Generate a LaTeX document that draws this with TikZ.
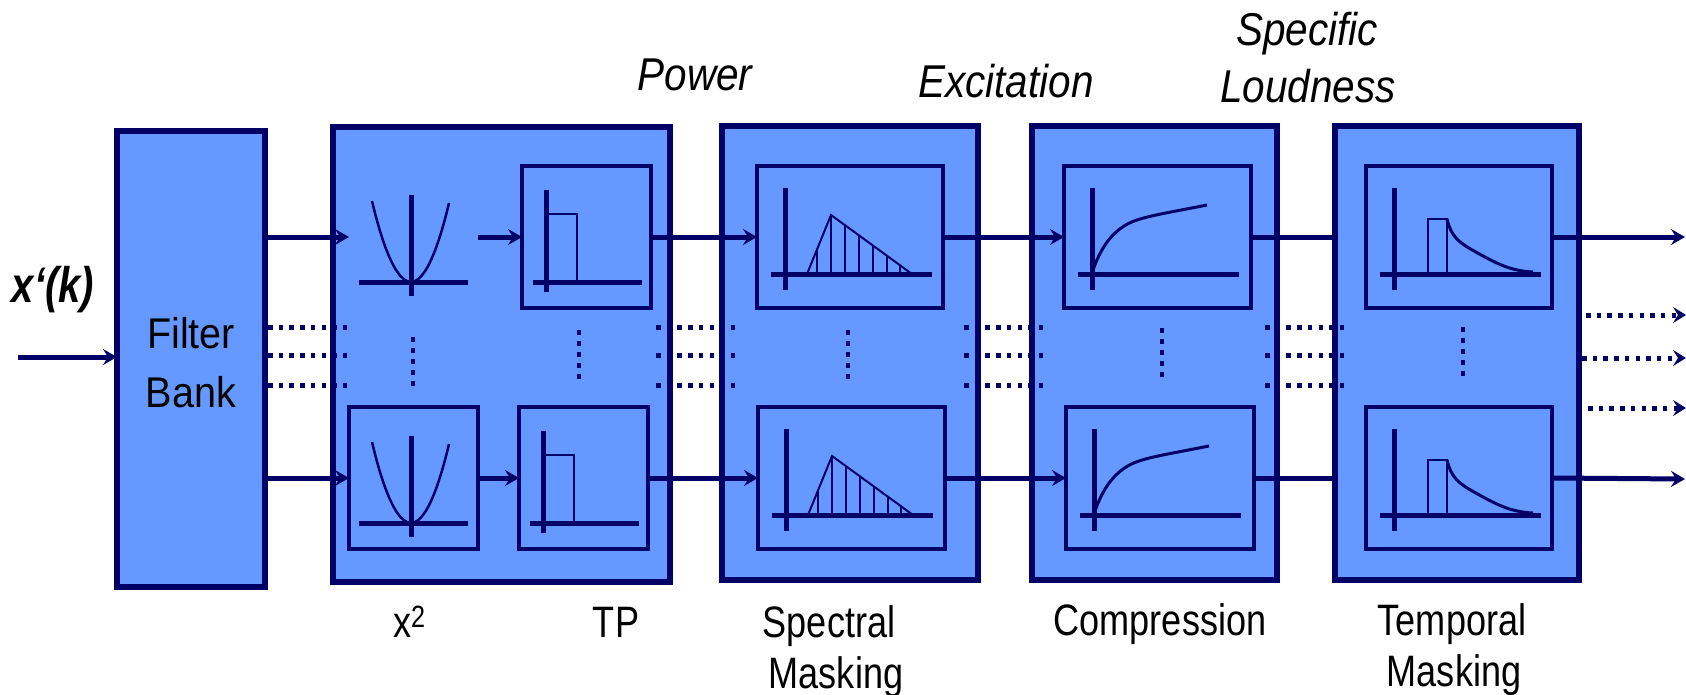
\documentclass[tikz,border=0pt]{standalone}
\usepackage{fontspec}
\setmainfont{Liberation Sans}
\newfontfamily\narrowfont{Liberation Sans}[FakeStretch=0.82]
\newfontfamily\fbfont{Liberation Sans}[FakeStretch=0.92]
\newfontfamily\stagefont{Liberation Sans}[FakeStretch=0.88]
\newfontfamily\sigfont{Liberation Sans}[FakeStretch=0.8]
\usetikzlibrary{arrows.meta}

\definecolor{navy}{RGB}{0,0,102}
\definecolor{panel}{RGB}{102,153,255}

\tikzset{
  stage/.style={draw=navy, fill=panel, line width=6.5pt, inner sep=0pt, outer sep=0pt},
  unit/.style={draw=navy, fill=panel, line width=4.5pt, inner sep=0pt, outer sep=0pt, minimum height=142pt},
  sigline/.style={draw=navy, line width=5pt},
  arr/.style={sigline, -{Stealth[length=14pt,width=16pt,inset=5pt]}},
  dots/.style={draw=navy, line width=5pt, dash pattern=on 4.5pt off 6.2pt},
  dotarr/.style={dots, -{Stealth[length=13pt,width=16pt,inset=5pt]}},
  vdots/.style={draw=navy, line width=4.5pt, dash pattern=on 4.5pt off 6.5pt},
  plotaxis/.style={draw=navy, line width=5pt},
  plottrace/.style={draw=navy, line width=2pt},
  lbl/.style={font=\narrowfont\fontsize{44}{51}\selectfont, inner sep=0pt},
  fblbl/.style={font=\fbfont\fontsize{43}{50}\selectfont, inner sep=0pt},
  stagelbl/.style={font=\stagefont\itshape\fontsize{46}{54}\selectfont, inner sep=0pt},
  % squaring characteristic
  squarer/.pic={
    \draw[plotaxis] (-52,0) -- (57,0);
    \draw[plotaxis] (0,-87) -- (0,14);
    \draw[plottrace, line width=2.5pt] (-39,-81) parabola bend (0,0) (38,-79);
  },
  % low-pass step response
  lowpass/.pic={
    \draw[plotaxis] (-13,0) -- (96,0);
    \draw[plotaxis] (0,-92) -- (0,10);
    \draw[plottrace, line width=2.5pt] (2,0) -- (2,-68) -- (31,-68) -- (31,0);
  },
  % spreading function with sampled stems
  spread/.pic={
    \draw[plotaxis] (-14,0) -- (147,0);
    \draw[plotaxis] (0,-86) -- (0,16);
    \draw[plottrace] (22,0) -- (46,-59) -- (127,0);
    \foreach \s/\h in {32/-24.6,46/-59,60/-48.8,74/-38.5,88/-28.4,102/-18.2,115/-8.7}
      \draw[plottrace, line width=2.5pt] (\s,0) -- (\s,\h);
  },
  % compressive loudness curve
  compress/.pic={
    \draw[plotaxis] (-14,0) -- (147,0);
    \draw[plotaxis] (0,-86) -- (0,16);
    \draw[plottrace, line width=3pt] (1,-4) .. controls (8,-24) and (20,-46) .. (45,-54)
      .. controls (60,-59) and (80,-62) .. (115,-69);
  },
  % pulse followed by post-masking decay
  decay/.pic={
    \draw[plotaxis] (-14,0) -- (147,0);
    \draw[plotaxis] (0,-86) -- (0,16);
    \draw[plottrace, line width=2.5pt] (34,0) -- (34,-55) -- (53,-55) -- (53,0);
    \draw[plottrace, line width=3pt] (53,-55) .. controls (57,-38) and (64,-32) .. (80,-23)
      .. controls (100,-12) and (115,-3) .. (139,-2);
  },
}

\begin{document}
\begin{tikzpicture}[x=1pt, y=-1pt]
\useasboundingbox (0,0) rectangle (1686,694);

% processing stages
\node[stage, minimum width=148pt, minimum height=456pt] (FB) at (191,359) {};
\node[stage, minimum width=337pt, minimum height=455pt] (B2) at (501.5,354.5) {};
\node[stage, minimum width=256pt, minimum height=454pt] (B3) at (850,353) {};
\node[stage, minimum width=245pt, minimum height=454pt] (B4) at (1154.5,353) {};
\node[stage, minimum width=244pt, minimum height=454pt] (B5) at (1457,353) {};

% per-band units
\coordinate (sqUw) at (349,237);
\coordinate (sqUe) at (478,237);
\node[unit, minimum width=129pt] (sqL) at (413.5,478) {};
\node[unit, minimum width=129pt] (tpU) at (586.5,237) {};
\node[unit, minimum width=129pt] (tpL) at (583.5,478) {};
\node[unit, minimum width=186pt] (smU) at (850,237) {};
\node[unit, minimum width=187pt] (smL) at (851.5,478) {};
\node[unit, minimum width=187pt] (cpU) at (1157.5,237) {};
\node[unit, minimum width=188pt] (cpL) at (1160,478) {};
\node[unit, minimum width=186pt] (tmU) at (1459,237) {};
\node[unit, minimum width=186pt] (tmL) at (1459,478) {};

% signal paths
\coordinate (in) at (18,357);
\coordinate (outU) at (1685,237);
\coordinate (outL) at (1685,479);
\draw[arr] (in) -- (FB.west |- in);
\draw[arr] (FB.east |- sqUw) -- (sqUw);
\draw[arr] (FB.east |- sqL.west) -- (sqL.west);
\draw[arr] (sqUe) -- (tpU.west);
\draw[arr] (sqL.east) -- (tpL.west);
\draw[arr] (tpU.east) -- (smU.west);
\draw[arr] (tpL.east) -- (smL.west);
\draw[arr] (smU.east) -- (cpU.west);
\draw[arr] (smL.east) -- (cpL.west);
\draw[sigline] (cpU.east) -- (B5.west |- cpU.east);
\draw[sigline] (cpL.east) -- (B5.west |- cpL.east);
\draw[arr] (tmU.east) -- (outU);
\draw[arr] (tmL.east) -- (outL);

% further bands, indicated by dots
\foreach \y in {327,355,385} {
  \draw[dots] (268,\y) -- (348,\y);
  \draw[dots] (656,\y) -- (736,\y);
  \draw[dots] (964,\y) -- (1044,\y);
  \draw[dots] (1265,\y) -- (1345,\y);
}
\draw[dotarr] (1586,315) -- (1686,315);
\draw[dotarr] (1582,358) -- (1686,358);
\draw[dotarr] (1588,408) -- (1686,408);
\draw[vdots] (413,337) -- (413,390);
\draw[vdots] (579,330) -- (579,383);
\draw[vdots] (848,330) -- (848,383);
\draw[vdots] (1162,328) -- (1162,380);
\draw[vdots] (1463,327) -- (1463,380);

% characteristics inside the units
\pic at (411,282) {squarer};
\pic at (411,523) {squarer};
\pic at (546,282) {lowpass};
\pic at (543,523) {lowpass};
\pic at (785,274) {spread};
\pic at (786,515) {spread};
\pic at (1092,274) {compress};
\pic at (1094,515) {compress};
\pic at (1394,274) {decay};
\pic at (1394,515) {decay};

% text
\node[font=\sigfont\bfseries\itshape\fontsize{50}{58}\selectfont, inner sep=0pt, anchor=base] (xin) at (53,302) {x‘(k)};
\node[fblbl, anchor=base] (fb1) at (191,348) {Filter};
\node[fblbl, anchor=base] (fb2) at (191,407) {Bank};
\node[stagelbl, anchor=base] (tPow) at (695,90) {Power};
\node[stagelbl, anchor=base] (tExc) at (1006,97) {Excitation};
\node[stagelbl, anchor=base] (tSpe) at (1307,45) {Specific};
\node[stagelbl, anchor=base] (tLou) at (1308,102) {Loudness};
\node[lbl, anchor=base west] (bSq) at (393,637) {x\textsuperscript{2}};
\node[lbl, anchor=base] (bTP) at (616,637) {TP};
\node[lbl, anchor=base] (bSp1) at (829,637) {Spectral};
\node[lbl, anchor=base] (bSp2) at (836,688) {Masking};
\node[lbl, anchor=base] (bCo) at (1160,635) {Compression};
\node[lbl, anchor=base] (bTm1) at (1452,635) {Temporal};
\node[lbl, anchor=base] (bTm2) at (1454,686) {Masking};
\end{tikzpicture}
\end{document}
